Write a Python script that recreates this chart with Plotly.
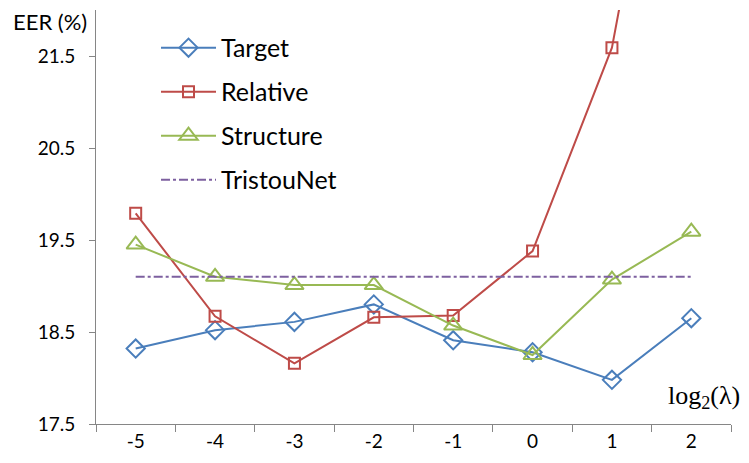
import plotly.graph_objs as go

# log2(lambda) categories and EER (%) per method
lambdas = ["-5", "-4", "-3", "-2", "-1", "0", "1", "2"]
target = [18.32, 18.52, 18.61, 18.80, 18.41, 18.28, 17.98, 18.65]
relative = [19.79, 18.67, 18.16, 18.66, 18.68, 19.38, 21.59, 26.2]
structure = [19.45, 19.10, 19.01, 19.01, 18.57, 18.25, 19.07, 19.59]
tristounet = [19.10] * len(lambdas)

y_ticks = [17.5, 18.5, 19.5, 20.5, 21.5]

FONT = "Lato"


def main():
    fig = go.Figure()
    fig.add_trace(go.Scatter(
        x=lambdas, y=target, name="Target", mode="lines+markers",
        line=dict(color="#4A7EBB", width=2),
        marker=dict(symbol="diamond-open", size=14, color="#4A7EBB", line=dict(width=2)),
        legendgroup="a"))
    fig.add_trace(go.Scatter(
        x=lambdas, y=relative, name="Relative", mode="lines+markers",
        line=dict(color="#BE4B48", width=2),
        marker=dict(symbol="square-open", size=11, color="#BE4B48", line=dict(width=2)),
        legendgroup="b"))
    fig.add_trace(go.Scatter(
        x=lambdas, y=structure, name="Structure", mode="lines+markers",
        line=dict(color="#98B954", width=2),
        marker=dict(symbol="triangle-up-open", size=16, color="#98B954", line=dict(width=2)),
        legendgroup="c"))
    fig.add_trace(go.Scatter(
        x=lambdas, y=tristounet, name="TristouNet", mode="lines",
        line=dict(color="#7D60A0", width=2, dash="dashdot"),
        legendgroup="d"))

    # page body has an 8px margin, so the figure is made 8px smaller
    fig.add_annotation(text="EER (%)", xref="paper", yref="paper", x=0, y=1,
                       xanchor="right", yanchor="middle", xshift=-7, yshift=-11,
                       showarrow=False, font=dict(family=FONT, size=22, color="black"))
    fig.add_annotation(text="log<sub>2</sub>(λ)", xref="paper", yref="y", x=1, y=17.79,
                       xanchor="right", yanchor="middle", xshift=11,
                       showarrow=False, font=dict(family="Liberation Serif", size=26, color="black"))

    fig.update_layout(
        width=741, height=455,
        margin=dict(l=88, r=18, t=2, b=39),
        paper_bgcolor="white", plot_bgcolor="white",
        font=dict(family=FONT, size=19, color="black"),
        showlegend=True,
        legend=dict(x=0.0945, y=0.964, xanchor="left", yanchor="top",
                    traceorder="grouped", tracegroupgap=8.5, itemwidth=55,
                    font=dict(family=FONT, size=25, color="black"),
                    bgcolor="rgba(0,0,0,0)"),
    )
    fig.update_xaxes(type="category", range=[-0.5, 7.5], showgrid=False,
                     showline=True, linecolor="#868686", linewidth=1,
                     ticks="outside", tickson="boundaries", ticklen=7, tickcolor="#868686",
                     zeroline=False)
    fig.update_yaxes(range=[17.5, 22.0], tickvals=y_ticks, showgrid=False,
                     showline=True, linecolor="#868686", linewidth=1,
                     ticks="outside", ticklen=6, tickcolor="#868686",
                     zeroline=False, ticklabelstandoff=10)

    fig.write_html("out.html")


if __name__ == "__main__":
    main()
